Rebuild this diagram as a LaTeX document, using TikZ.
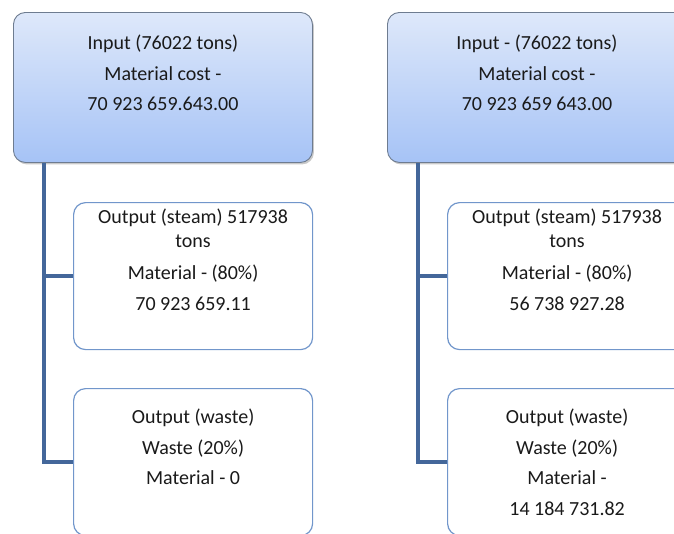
\documentclass[tikz,border=0pt]{standalone}
\usepackage{fontspec}
\setmainfont{Carlito}
\usetikzlibrary{shadows,calc}
\definecolor{connblue}{HTML}{44679A}
\definecolor{childborder}{HTML}{7196CB}
\definecolor{topA}{HTML}{DEE8FA}
\definecolor{topB}{HTML}{A6C3F6}
\definecolor{topborder}{HTML}{6E7C90}
\definecolor{txtcol}{HTML}{1A1A1A}
\newcommand\firstln{\rule{0pt}{21pt}}
\begin{document}
\begin{tikzpicture}[x=1pt,y=-1pt,
  topbox/.style={draw=topborder, line width=0.9pt, rounded corners=12pt,
    top color=topA, bottom color=topB, minimum width=299pt, minimum height=150pt,
    inner sep=0pt, anchor=north west,
    drop shadow={shadow xshift=1.5pt, shadow yshift=-2pt, opacity=0.3, fill=black!70}},
  childbox/.style={draw=childborder, line width=1.2pt, rounded corners=12pt,
    fill=white, minimum width=239pt, minimum height=147pt, inner sep=0pt, anchor=north west},
  conn/.style={draw=connblue, line width=3.8pt},
  txt/.style={font=\fontsize{20}{30.5}\selectfont, align=center, anchor=north,
    inner sep=0pt, text=txtcol}]
\useasboundingbox (0,0) rectangle (674,533);
\clip (0,0) rectangle (674,533);

% ---------- left tree ----------
\node[topbox] (lt) at (13,12) {};
\node[childbox] (lc1) at (73,202) {};
\node[childbox] (lc2) at (73,388) {};
\coordinate (lv) at ($(lt.south west)+(31,0)$);
\draw[conn] (lv) |- (lc2.west);
\draw[conn] (lc1.west) -- (lc1.west -| lv);
\node[txt] (ltt) at ($(lt.north)+(0,16.5)$)
  {\firstln Input (76022 tons)\\Material cost -\\70 923 659.643.00};
\node[txt] (lc1t) at ($(lc1.north)+(0,0.5)$)
  {\firstln Output (steam) 517938\\[-6.5pt]tons\\[1.5pt]Material - (80\%)\\70 923 659.11};
\node[txt] (lc2t) at ($(lc2.north)+(0,14.5)$)
  {\firstln Output (waste)\\Waste (20\%)\\Material - 0};

% ---------- right tree ----------
\node[topbox] (rt) at (387,12) {};
\node[childbox] (rc1) at (447,202) {};
\node[childbox] (rc2) at (447,388) {};
\coordinate (rv) at ($(rt.south west)+(31,0)$);
\draw[conn] (rv) |- (rc2.west);
\draw[conn] (rc1.west) -- (rc1.west -| rv);
\node[txt] (rtt) at ($(rt.north)+(0,16.5)$)
  {\firstln Input - (76022 tons)\\Material cost -\\70 923 659 643.00};
\node[txt] (rc1t) at ($(rc1.north)+(0,0.5)$)
  {\firstln Output (steam) 517938\\[-6.5pt]tons\\[1.5pt]Material - (80\%)\\56 738 927.28};
\node[txt] (rc2t) at ($(rc2.north)+(0,14.5)$)
  {\firstln Output (waste)\\Waste (20\%)\\Material -\\14 184 731.82};
\end{tikzpicture}
\end{document}
